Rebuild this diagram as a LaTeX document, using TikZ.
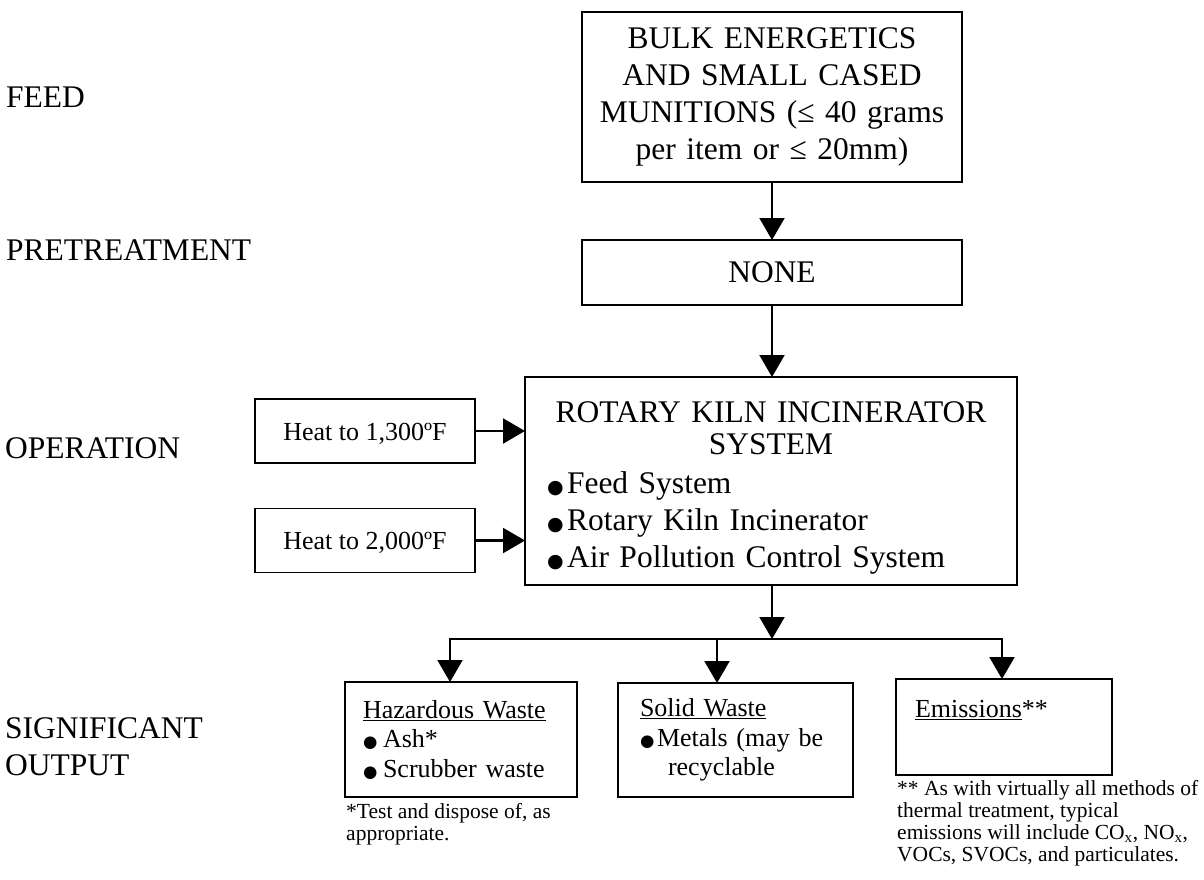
\documentclass[tikz,border=0pt]{standalone}
\usepackage{fontspec}
\setmainfont{Liberation Serif}
\newfontfamily\dejavu{DejaVu Sans}
\usetikzlibrary{arrows.meta}
% filled round bullet of a given size for the item lists
\newcommand\blt[1]{{\dejavu\fontsize{#1}{#1}\selectfont ●}}
\begin{document}
\begin{tikzpicture}[x=1pt,y=-1pt,
  box/.style={draw, line width=1.9pt, inner sep=0pt, outer sep=0pt},
  big/.style={font=\fontsize{31.5}{37}\selectfont},
  mid/.style={font=\fontsize{26}{29.5}\selectfont},
  small/.style={font=\fontsize{21.5}{22}\selectfont},
  arr/.style={line width=2.1pt, -{Triangle[length=22pt,width=25pt]}},
  stage/.style={big, anchor=base west, inner sep=0pt, align=left},
  note/.style={small, anchor=base west, inner sep=0pt, align=left},
]
\useasboundingbox (0,0) rectangle (1204,879);

% stage labels down the left side (multi-line nodes sit on their last baseline)
\node[stage] (feed) at (6,107) {FEED};
\node[stage] (pre)  at (6,260) {PRETREATMENT};
\node[stage] (op)   at (5,458) {OPERATION};
\node[stage] (out)  at (5,775) {SIGNIFICANT\\OUTPUT};

% feed
\node[box, big, minimum width=380pt, minimum height=170pt,
      text width=372pt, align=center] (feedbox) at (772,97)
  {BULK ENERGETICS\\AND SMALL CASED\\MUNITIONS (≤ 40 grams\\per item or ≤ 20mm)};

% pretreatment
\node[box, big, minimum width=380pt, minimum height=65pt] (none) at (772,272.5) {NONE};

% operation
\node[box, big, minimum width=492pt, minimum height=208pt,
      text width=448pt, align=left] (kiln) at (771,481)
  {\makebox[448pt]{\rule{0pt}{34.5pt}ROTARY KILN INCINERATOR}\\[-5pt]
   \makebox[448pt]{SYSTEM}\\[1.5pt]
   \makebox[20pt][l]{\blt{19}}Feed System\\
   \makebox[20pt][l]{\blt{19}}Rotary Kiln Incinerator\\
   \makebox[20pt][l]{\blt{19}}Air Pollution Control System};

\node[box, mid, minimum width=220pt, minimum height=64pt] (heatA) at (365,431)
  {\rule{0pt}{22pt}Heat to 1,300ºF};
\node[box, mid, minimum width=220pt, minimum height=64pt] (heatB) at (365,540.5)
  {\rule{0pt}{22pt}Heat to 2,000ºF};

% outputs
\node[box, mid, minimum width=232pt, minimum height=115pt,
      text width=196pt, align=left] (haz) at (461,739.5)
  {\underline{Hazardous Waste}\\
   \makebox[20pt][l]{\blt{16.5}}Ash*\\
   \makebox[20pt][l]{\blt{16.5}}Scrubber waste};
\node[box, mid, minimum width=235pt, minimum height=114pt,
      text width=191pt, align=left] (solid) at (735.5,740)
  {\underline{Solid Waste}\\
   \makebox[17pt][l]{\blt{16.5}}Metals (may be\\
   \hspace*{28pt}recyclable};
\node[box, mid, minimum width=216pt, minimum height=96pt,
      text width=178pt, align=left] (emis) at (1004,727)
  {\underline{Emissions}**\rule[-35.6pt]{0pt}{35.6pt}};

% footnotes
\node[note] (hazfoot) at (346,840) {*Test and dispose of, as\\appropriate.};
\node[note] (emisfoot) at (897,861)
  {** As with virtually all methods of\\thermal treatment, typical\\
   emissions will include CO\textsubscript{x}, NO\textsubscript{x},\\
   VOCs, SVOCs, and particulates.};

% flow
\coordinate (split)  at (772,639);
\coordinate (splitL) at (450,639);
\coordinate (splitM) at (717,639);
\coordinate (splitR) at (1002,639);

\draw[arr] (feedbox.south) -- (none.north);
\draw[arr] (none.south) -- (none.south |- kiln.north);
\draw[arr] (heatA.east) -- (heatA.east -| kiln.west);
\draw[arr] (heatB.east) -- (heatB.east -| kiln.west);
\draw[arr] (kiln.south -| split) -- (split);
\draw[arr] (split) -| (splitL |- haz.north);
\draw[arr] (split) -| (splitR |- emis.north);
\draw[arr] (splitM) -- (splitM |- solid.north);
\end{tikzpicture}
\end{document}
